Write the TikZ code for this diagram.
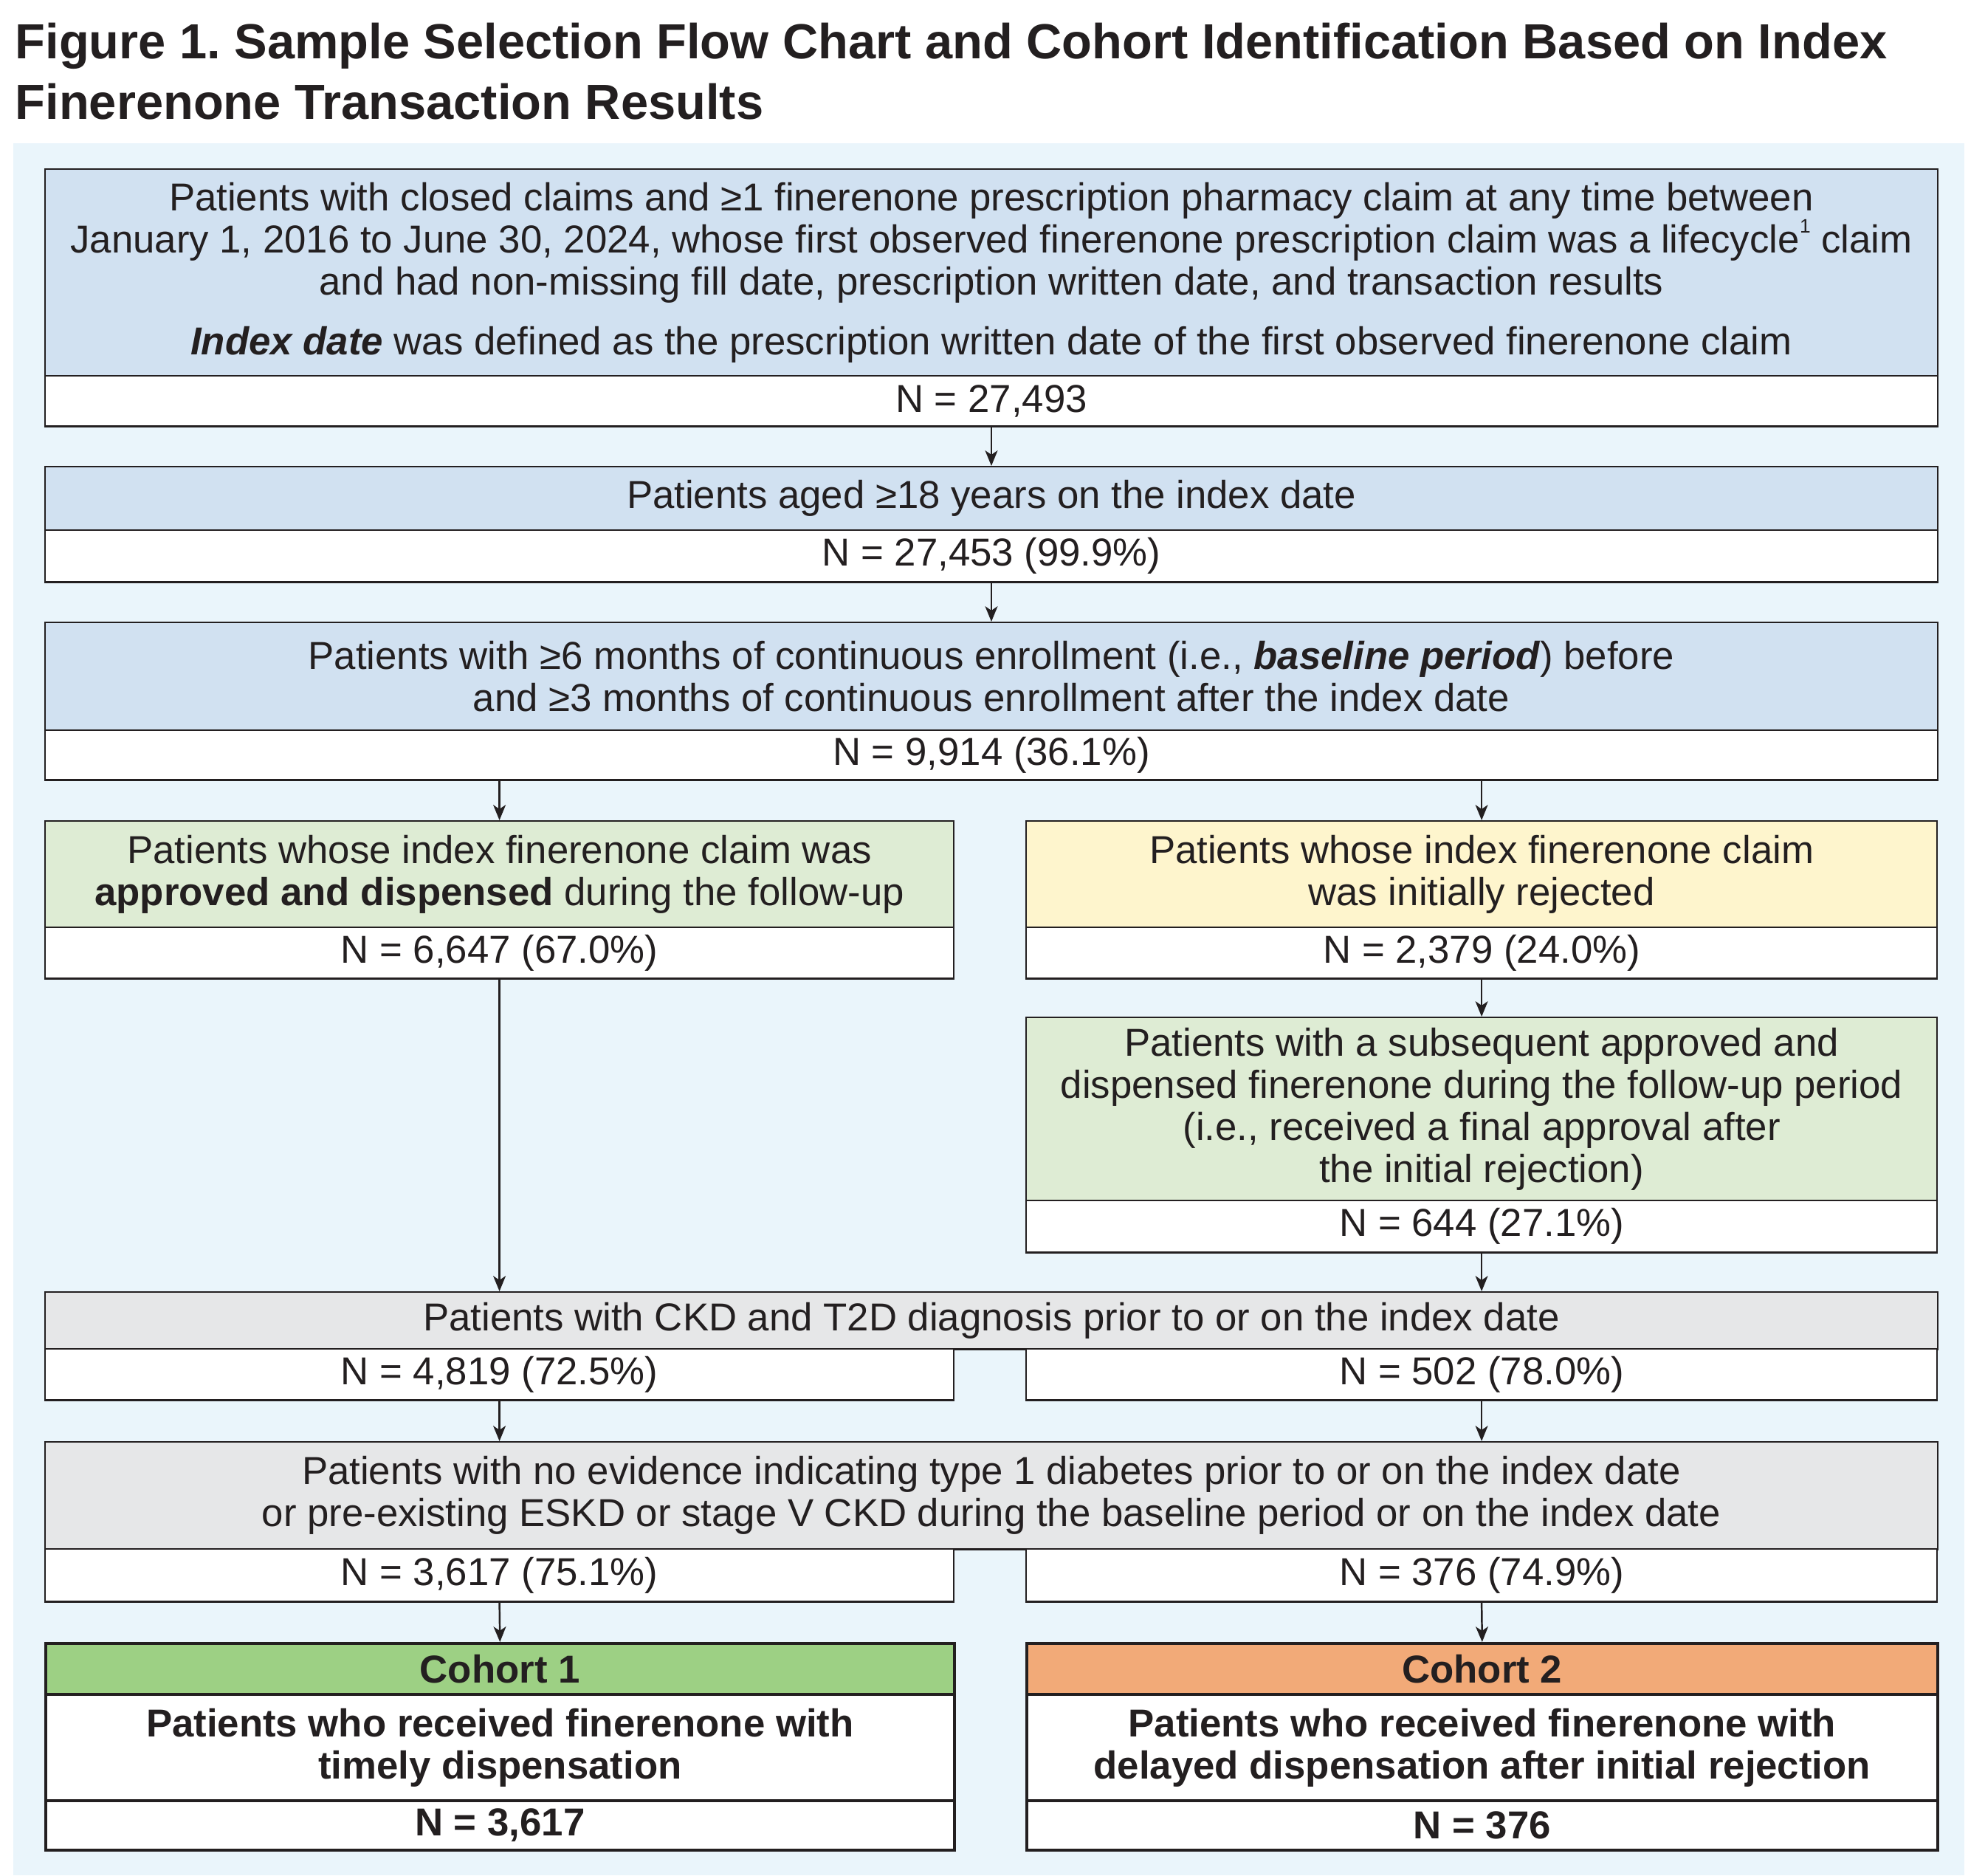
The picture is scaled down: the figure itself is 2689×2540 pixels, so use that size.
\documentclass[tikz,border=0pt]{standalone}
\usepackage{fontspec}
\setmainfont{Liberation Sans}
\usetikzlibrary{arrows.meta}
\frenchspacing
\definecolor{ink}{HTML}{231F20}
\definecolor{panel}{HTML}{EAF5FB}
\definecolor{cblue}{HTML}{D1E1F1}
\definecolor{cgreen}{HTML}{DEECD4}
\definecolor{cyellow}{HTML}{FEF5CD}
\definecolor{cgray}{HTML}{E6E7E8}
\definecolor{cohA}{HTML}{9DD084}
\definecolor{cohB}{HTML}{F2AA78}
\newcommand{\bodyfs}{\fontsize{15}{16.2}\selectfont}
\newcommand{\titlefs}{\fontsize{19}{23}\selectfont\bfseries}
\newcommand{\supone}{\raisebox{0.52em}{\fontsize{7.5}{7.5}\selectfont 1}}
\begin{document}
\begin{tikzpicture}[x=0.01cm,y=-0.01cm,
  box/.style={draw=ink, line width=0.7pt, inner sep=0pt, anchor=north west, align=center, text=ink, font=\bodyfs},
  cbox/.style={box, line width=1.1pt, font=\bodyfs\bfseries},
  wide/.style={minimum width=25.62cm},
  halfL/.style={minimum width=12.30cm},
  halfR/.style={minimum width=12.33cm},
  arr/.style={draw=ink, line width=0.7pt, -{Stealth[length=5.9pt,width=4.8pt,inset=1.6pt]}},
  ttl/.style={anchor=base west, inner sep=0pt, text=ink, font=\titlefs}]
\useasboundingbox (0,0) rectangle (2689,2540);
\fill[white] (0,0) rectangle (2689,2540);
\fill[panel] (18,194) rectangle (2661,2540);

\node[ttl] (t1) at (20,80) {Figure 1. Sample Selection Flow Chart and Cohort Identification Based on Index};
\node[ttl] (t2) at (20,162) {Finerenone Transaction Results};

% top chain
\node[box,wide,fill=cblue,minimum height=2.80cm] (b1) at (60,228)
 {Patients with closed claims and ≥1 finerenone prescription pharmacy claim at any time between\\
  January 1, 2016 to June 30, 2024, whose first observed finerenone prescription claim was a lifecycle\supone{} claim\\
  and had non-missing fill date, prescription written date, and transaction results\\[6.7pt]
  \textbf{\textit{Index date}} was defined as the prescription written date of the first observed finerenone claim};
\node[box,wide,fill=white,minimum height=0.68cm] (b1n) at (60,508) {N = 27,493};

\node[box,wide,fill=cblue,minimum height=0.86cm] (b2) at (60,631) {Patients aged ≥18 years on the index date};
\node[box,wide,fill=white,minimum height=0.70cm] (b2n) at (60,717) {N = 27,453 (99.9\%)};

\node[box,wide,fill=cblue,minimum height=1.46cm] (b3) at (60,842)
 {Patients with ≥6 months of continuous enrollment (i.e., \textbf{\textit{baseline period}}) before\\
  and ≥3 months of continuous enrollment after the index date};
\node[box,wide,fill=white,minimum height=0.67cm] (b3n) at (60,988) {N = 9,914 (36.1\%)};

% split
\node[box,halfL,fill=cgreen,minimum height=1.44cm] (b4) at (60,1111)
 {Patients whose index finerenone claim was\\ \textbf{approved and dispensed} during the follow-up};
\node[box,halfL,fill=white,minimum height=0.69cm] (b4n) at (60,1255) {N = 6,647 (67.0\%)};

\node[box,halfR,fill=cyellow,minimum height=1.44cm] (b5) at (1389,1111)
 {Patients whose index finerenone claim\\ was initially rejected};
\node[box,halfR,fill=white,minimum height=0.69cm] (b5n) at (1389,1255) {N = 2,379 (24.0\%)};

\node[box,halfR,fill=cgreen,minimum height=2.48cm] (b6) at (1389,1377)
 {Patients with a subsequent approved and\\ dispensed finerenone during the follow-up period\\
  (i.e., received a final approval after\\ the initial rejection)};
\node[box,halfR,fill=white,minimum height=0.70cm] (b6n) at (1389,1625) {N = 644 (27.1\%)};

% CKD
\node[box,wide,fill=cgray,minimum height=0.77cm] (b7) at (60,1749) {Patients with CKD and T2D diagnosis prior to or on the index date};
\node[box,halfL,fill=white,minimum height=0.69cm] (b7l) at (60,1826) {N = 4,819 (72.5\%)};
\node[box,halfR,fill=white,minimum height=0.69cm] (b7r) at (1389,1826) {N = 502 (78.0\%)};

% T1D
\node[box,wide,fill=cgray,minimum height=1.45cm] (b8) at (60,1952)
 {Patients with no evidence indicating type 1 diabetes prior to or on the index date\\
  or pre-existing ESKD or stage V CKD during the baseline period or on the index date};
\node[box,halfL,fill=white,minimum height=0.71cm] (b8l) at (60,2097) {N = 3,617 (75.1\%)};
\node[box,halfR,fill=white,minimum height=0.71cm] (b8r) at (1389,2097) {N = 376 (74.9\%)};

% cohorts
\node[cbox,halfL,fill=cohA,minimum height=0.69cm] (c1h) at (60,2224) {Cohort 1};
\node[cbox,halfL,fill=white,minimum height=1.44cm] (c1b) at (60,2293) {Patients who received finerenone with\\ timely dispensation};
\node[cbox,halfL,fill=white,minimum height=0.67cm] (c1n) at (60,2437) {N = 3,617};

\node[cbox,halfR,fill=cohB,minimum height=0.69cm] (c2h) at (1389,2224) {Cohort 2};
\node[cbox,halfR,fill=white,minimum height=1.44cm] (c2b) at (1389,2293) {Patients who received finerenone with\\ delayed dispensation after initial rejection};
\node[cbox,halfR,fill=white,minimum height=0.67cm] (c2n) at (1389,2437) {N = 376};

% connectors
\draw[arr] (b1n.south) -- (b2.north);
\draw[arr] (b2n.south) -- (b3.north);
\draw[arr] (b3n.south -| b4.north) -- (b4.north);
\draw[arr] (b3n.south -| b5.north) -- (b5.north);
\draw[arr] (b5n.south) -- (b6.north);
\draw[arr] (b4n.south) -- (b4n.south |- b7.north);
\draw[arr] (b6n.south) -- (b6n.south |- b7.north);
\draw[arr] (b7l.south) -- (b7l.south |- b8.north);
\draw[arr] (b7r.south) -- (b7r.south |- b8.north);
\draw[arr] (b8l.south) -- (c1h.north);
\draw[arr] (b8r.south) -- (c2h.north);
\end{tikzpicture}
\end{document}
